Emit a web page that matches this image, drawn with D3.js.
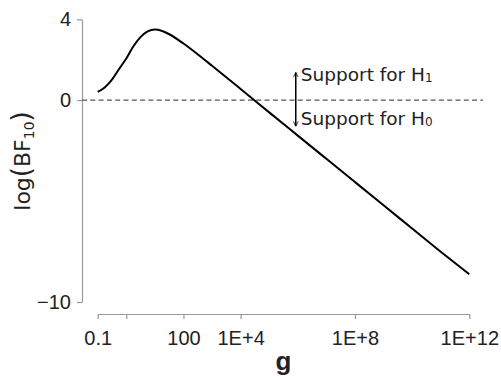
<!DOCTYPE html>
<html>
<head>
<meta charset="utf-8">
<script src="https://cdn.jsdelivr.net/npm/d3@7"></script>
<style>
  body { margin: 0; background: #fff; }
  .axis path, .axis line { stroke: #999; stroke-width: 1.2; }
  .axis text { font-family: "Liberation Sans", Arial, sans-serif; font-size: 20px; fill: #222; }
</style>
</head>
<body>
<svg id="chart" width="501" height="377"></svg>
<script>
// values
var gValues = [0.1, 0.18, 0.32, 0.56, 1, 1.8, 3.2, 5.6, 10, 18, 32, 100, 320, 1e3, 1e4, 1e5, 1e6, 1e7, 1e8, 1e9, 1e10, 1e11, 1e12];
var logBF = [0.40, 0.64, 1.03, 1.54, 2.06, 2.68, 3.13, 3.40, 3.49, 3.42, 3.26, 2.80, 2.26, 1.70, 0.55, -0.61, -1.76, -2.91, -4.06, -5.21, -6.36, -7.51, -8.63];

var xTicks = [0.1, 1, 100, 1e4, 1e8, 1e12];
var xTickLabels = ["0.1", "", "100", "1E+4", "1E+8", "1E+12"];
var yTicks = [-10, 0, 4];
var yTickLabels = ["\u221210", "0", "4"];

// annotation arrow (in data units)
var arrowG = 8.5e5;
var arrowTop = 1.37, arrowBottom = -1.3;

var svg = d3.select("#chart");

var x = d3.scaleLog().domain([0.1, 1e12]).range([97.7, 469.3]);
var y = d3.scaleLinear().domain([-10, 4]).range([302, 19.3]);

// Axis X
svg.append("g")
   .attr("class", "axis axis--x")
   .attr("transform", "translate(0,314)")
   .call(d3.axisBottom(x)
     .tickValues(xTicks)
     .tickSize(5)
     .tickSizeOuter(0)
     .tickPadding(12)
     .tickFormat(function(d, i) { return xTickLabels[i]; }));

// Axis Y
svg.append("g")
   .attr("class", "axis axis--y")
   .attr("transform", "translate(82,0)")
   .call(d3.axisLeft(y)
     .tickValues(yTicks)
     .tickSize(5)
     .tickSizeOuter(0)
     .tickPadding(6)
     .tickFormat(function(d, i) { return yTickLabels[i]; }));

// zero line
svg.append("line")
   .attr("x1", 82).attr("x2", 483)
   .attr("y1", y(0)).attr("y2", y(0))
   .style("stroke", "#555")
   .style("stroke-width", 1.2)
   .style("stroke-dasharray", "5,3.3");

// curve
var line = d3.line()
   .x(function(d, i) { return x(gValues[i]); })
   .y(function(d) { return y(d); })
   .curve(d3.curveMonotoneX);

svg.append("path")
   .datum(logBF)
   .attr("d", line)
   .style("fill", "none")
   .style("stroke", "#000")
   .style("stroke-width", 2);

// arrow
var defs = svg.append("defs");
defs.append("marker")
   .attr("id", "head")
   .attr("viewBox", "0 0 10 10")
   .attr("refX", 10).attr("refY", 5)
   .attr("markerWidth", 5).attr("markerHeight", 6)
   .attr("orient", "auto-start-reverse")
   .attr("markerUnits", "userSpaceOnUse")
   .append("path")
   .attr("d", "M0,0 L10,5 L0,10")
   .style("fill", "none")
   .style("stroke", "#000")
   .style("stroke-width", 1.5);

svg.append("line")
   .attr("x1", x(arrowG)).attr("x2", x(arrowG))
   .attr("y1", y(arrowBottom)).attr("y2", y(arrowTop))
   .style("stroke", "#000")
   .style("stroke-width", 1.5)
   .attr("marker-start", "url(#head)")
   .attr("marker-end", "url(#head)");

var labels = [{ text: "Support for H", sub: "1", dy: -19.5 }, { text: "Support for H", sub: "0", dy: 25 }];
labels.forEach(function(l) {
  var t = svg.append("text")
     .attr("x", x(arrowG) + 5)
     .attr("y", y(0) + l.dy)
     .style("font-family", "'DejaVu Sans', sans-serif")
     .style("font-size", "18.5px")
     .style("fill", "#222")
     .text(l.text);
  t.append("tspan").style("font-size", "12px").attr("dy", 1).text(l.sub);
});

// Axis titles
var ylab = svg.append("text")
   .attr("transform", "translate(30,161) rotate(-90)")
   .attr("text-anchor", "middle")
   .style("font-family", "'DejaVu Sans', sans-serif")
   .style("font-size", "22px")
   .style("fill", "#222");
ylab.append("tspan").text("log");
ylab.append("tspan").style("font-size", "26px").text("(");
ylab.append("tspan").text("BF");
ylab.append("tspan").style("font-size", "14px").attr("dy", 4).text("10");
ylab.append("tspan").style("font-size", "26px").attr("dy", -4).text(")");

svg.append("text")
   .attr("x", (x.range()[0] + x.range()[1]) / 2)
   .attr("y", 370)
   .attr("text-anchor", "middle")
   .style("font-family", "'Liberation Sans', Arial, sans-serif")
   .style("font-weight", "bold")
   .style("font-size", "26px")
   .style("fill", "#222")
   .text("g");
</script>
</body>
</html>
